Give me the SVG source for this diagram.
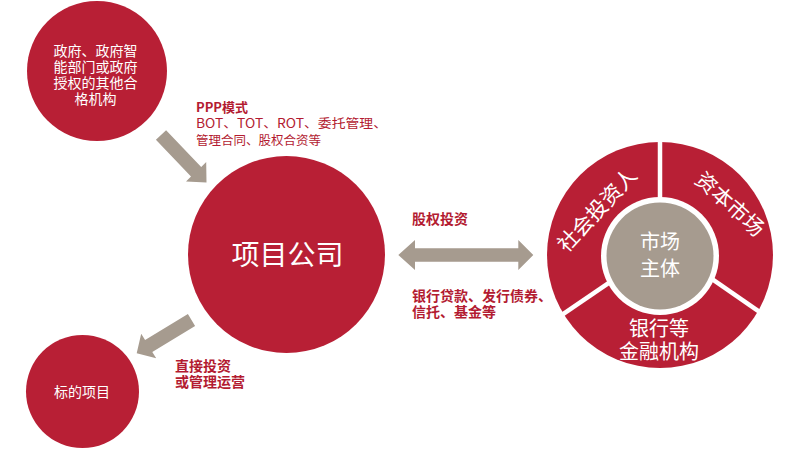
<svg xmlns="http://www.w3.org/2000/svg" width="794" height="459" viewBox="0 0 794 459">
<defs>
<style>
.red{fill:#B81F35}
.grey{fill:#A69B8F}
.wt{fill:#FFFFFF;font-family:"Noto Sans CJK SC","Noto Sans",sans-serif;text-anchor:middle}
.lbl{fill:#B31B31;font-family:"Noto Sans CJK SC","Noto Sans",sans-serif}
.b{font-weight:bold}
.gap{stroke:#FFFFFF;stroke-width:4.5;fill:none}
</style>
</defs>
<rect width="794" height="459" fill="#FFFFFF"/>
<g id="node-gov">
<circle class="red" cx="97" cy="71" r="70"/>
<text class="wt" font-size="14"><tspan x="95.5" y="56">政府、政府智</tspan><tspan x="95.5" y="72">能部门或政府</tspan><tspan x="95.5" y="88">授权的其他合</tspan><tspan x="95.5" y="104">格机构</tspan></text>
</g>
<g id="node-project-company">
<circle class="red" cx="286.5" cy="254.5" r="98.5"/>
<text class="wt" font-size="28" x="287.5" y="265">项目公司</text>
</g>
<g id="node-target">
<circle class="red" cx="82.5" cy="391.5" r="56.5"/>
<text class="wt" font-size="14" x="82" y="396.5">标的项目</text>
</g>
<g id="node-market">
<circle class="red" cx="660" cy="255" r="113"/>
<line class="gap" x1="660" y1="255" x2="660" y2="130"/>
<line class="gap" x1="660" y1="248" x2="552" y2="321.7"/>
<line class="gap" x1="660" y1="243" x2="768" y2="317.8"/>
<circle fill="#FFFFFF" cx="660" cy="256" r="59"/>
<circle class="grey" cx="660" cy="256" r="53.5"/>
<text class="wt" font-size="20"><tspan x="660" y="249">市场</tspan><tspan x="660" y="275.5">主体</tspan></text>
<text class="wt" font-size="21" transform="translate(597,210) rotate(-47)" x="0" y="7.5">社会投资人</text>
<text class="wt" font-size="21" transform="translate(730,204) rotate(42)" x="0" y="7.5">资本市场</text>
<text class="wt" font-size="20"><tspan x="659" y="335.5">银行等</tspan><tspan x="659" y="358.5">金融机构</tspan></text>
</g>
<g id="connectors">
<polygon class="grey" points="155.9,139.8 166.1,130.2 201.2,166.9 206.2,162 206.5,182.5 186,181.4 191,176.5"/>
<polygon class="grey" points="398.3,255 415,240 415,248.3 518.3,248.3 518.3,240 533.3,255 518.3,270 518.3,261.7 415,261.7 415,270"/>
<polygon class="grey" points="187.9,314 195.1,326 152.3,352 156.2,358.3 136.7,353.3 141.2,333.7 145.1,340"/>
</g>
<g id="labels">
<text class="lbl b" font-size="13" x="196" y="112">PPP模式</text>
<text class="lbl" font-size="12.5" x="196" y="128" textLength="191" lengthAdjust="spacingAndGlyphs">BOT、TOT、ROT、委托管理、</text>
<text class="lbl" font-size="12.5" x="196" y="145">管理合同、股权合资等</text>
<text class="lbl b" font-size="14" x="412" y="224">股权投资</text>
<text class="lbl b" font-size="14"><tspan x="412" y="301">银行贷款、发行债券、</tspan><tspan x="412" y="317">信托、基金等</tspan></text>
<text class="lbl b" font-size="14"><tspan x="175" y="371">直接投资</tspan><tspan x="175" y="387">或管理运营</tspan></text>
</g>
</svg>
